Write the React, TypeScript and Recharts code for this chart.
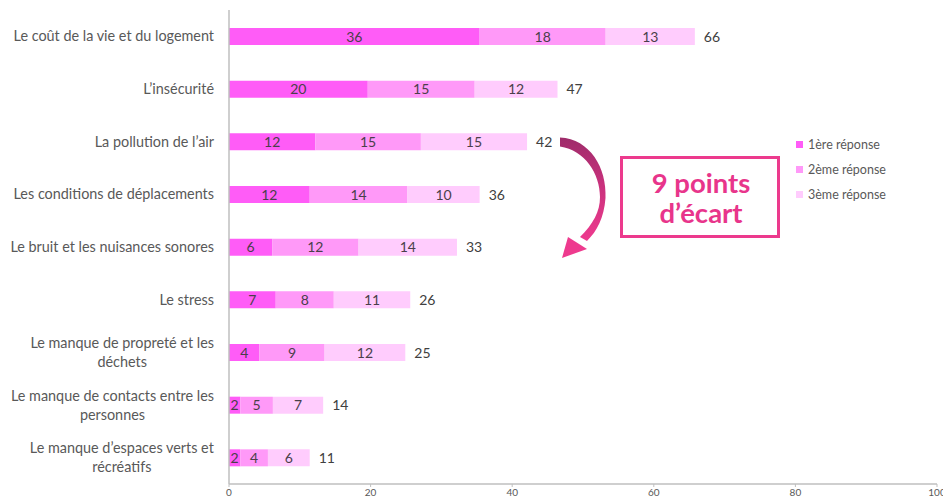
import React from 'react';
import { BarChart, Bar, XAxis, YAxis, LabelList } from 'recharts';

const categories = [
  'Le coût de la vie et du logement',
  'L\u2019insécurité',
  'La pollution de l\u2019air',
  'Les conditions de déplacements',
  'Le bruit et les nuisances sonores',
  'Le stress',
  'Le manque de propreté et les|déchets',
  'Le manque de contacts entre les|personnes',
  'Le manque d\u2019espaces verts et|récréatifs',
];

// underlying values
const first = [35.4, 19.6, 12.2, 11.4, 6.1, 6.6, 4.3, 1.6, 1.6];
const second = [17.8, 15.1, 14.9, 13.8, 12.2, 8.2, 9.2, 4.6, 3.9];
const third = [12.6, 11.7, 15.0, 10.2, 13.9, 10.8, 11.4, 7.1, 5.9];

// displayed labels
const firstLabels = [36, 20, 12, 12, 6, 7, 4, 2, 2];
const secondLabels = [18, 15, 15, 14, 12, 8, 9, 5, 4];
const thirdLabels = [13, 12, 15, 10, 14, 11, 12, 7, 6];
const totals = [66, 47, 42, 36, 33, 26, 25, 14, 11];

const xTicks = [0, 20, 40, 60, 80, 100];
const seriesNames = ['1ère réponse', '2ème réponse', '3ème réponse'];
const colors = ['#FF5CF7', '#FF99F8', '#FFCCFD'];

const data = categories.map((c, i) => ({
  name: c,
  r1: first[i],
  r2: second[i],
  r3: third[i],
  l1: firstLabels[i],
  l2: secondLabels[i],
  l3: thirdLabels[i],
  total: totals[i],
}));

const FONT = 'Lato, "Open Sans", sans-serif';
const CAT_FS = 14.4;

let canvasCtx: CanvasRenderingContext2D | null = null;
function measure(text: string, font: string): number {
  if (!canvasCtx) {
    const c = document.createElement('canvas');
    canvasCtx = c.getContext('2d');
  }
  if (!canvasCtx) return text.length * 7;
  canvasCtx.font = font;
  return canvasCtx.measureText(text).width;
}

const CatTick = (props: any) => {
  const { x, y, payload } = props;
  const lines: string[] = String(payload.value).split('|');
  const right = x - 7;
  const fs = CAT_FS;
  if (lines.length === 1) {
    return (
      <text x={right} y={y} dy={5} textAnchor="end" fill="#595959" fontSize={fs} fontFamily={FONT}>
        {lines[0]}
      </text>
    );
  }
  const w = Math.max(...lines.map((l) => measure(l, `${fs}px Lato`)));
  const cx = right - w / 2;
  return (
    <text x={cx} y={y} textAnchor="middle" fill="#595959" fontSize={fs} fontFamily={FONT}>
      <tspan x={cx} dy={-4.5}>{lines[0]}</tspan>
      <tspan x={cx} dy={19}>{lines[1]}</tspan>
    </text>
  );
};

const makeInner = (labels: number[]) => (props: any) => {
  const { x, y, width, height, index } = props;
  return (
    <text
      x={x + width / 2}
      y={y + height / 2}
      dy={5}
      textAnchor="middle"
      fill="#4a3f4a"
      fontSize={14}
      fontFamily={FONT}
    >
      {labels[index]}
    </text>
  );
};

const TotalLabel = (props: any) => {
  const { x, y, width, height, index } = props;
  return (
    <text x={x + width + 9} y={y + height / 2} dy={5} textAnchor="start" fill="#404040" fontSize={14} fontFamily={FONT}>
      {totals[index]}
    </text>
  );
};

const LegendBox = () => (
  <div
    style={{
      position: 'absolute',
      left: 796,
      top: 132,
      fontFamily: FONT,
      fontSize: 12.5,
      color: '#595959',
    }}
  >
    {seriesNames.map((n, i) => (
      <div key={n} style={{ display: 'flex', alignItems: 'center', height: 25 }}>
        <span style={{ width: 7, height: 7, background: colors[i], display: 'inline-block', marginRight: 5 }} />
        <span>{n}</span>
      </div>
    ))}
  </div>
);

const Annotation = () => (
  <svg width={943} height={503} style={{ position: 'absolute', left: 0, top: 0, pointerEvents: 'none' }}>
    <defs>
      <linearGradient id="arrowGrad" x1="0" y1="0" x2="0" y2="1">
        <stop offset="0%" stopColor="#9E2C6A" />
        <stop offset="45%" stopColor="#C8317C" />
        <stop offset="100%" stopColor="#EE3A8E" />
      </linearGradient>
    </defs>
    <path
      d="M 560 137.5 C 590 139, 607 168, 605.5 198 C 604 218, 597 231, 587 241 L 580 237 C 593 224, 600 212, 600 197 C 600 174, 585 150, 560 146.5 Z"
      fill="url(#arrowGrad)"
    />
    <path d="M 568 237 L 587 249 L 562 258 Z" fill="#EE3A8E" />
    <rect x={621.5} y={157.5} width={157} height={79} fill="#fff" stroke="#EC3A8D" strokeWidth={3} />
    <text x={701} y={193} textAnchor="middle" fill="#E8358B" fontSize={27.5} fontWeight={700} fontFamily={FONT}>
      9 points
    </text>
    <text x={701} y={223} textAnchor="middle" fill="#E8358B" fontSize={27.5} fontWeight={700} fontFamily={FONT}>
      d{'\u2019'}écart
    </text>
  </svg>
);

export default function App() {
  return (
    <div style={{ position: 'absolute', left: 0, top: 0, width: 943, height: 503, background: '#fff', overflow: 'hidden' }}>
      <BarChart
        width={943}
        height={503}
        data={data}
        layout="vertical"
        margin={{ top: 10, right: 6, left: 0, bottom: 0 }}
        barSize={17}
      >
        <XAxis
          type="number"
          domain={[0, 100]}
          ticks={xTicks}
          height={19}
          interval={0}
          axisLine={{ stroke: '#BFBFBF', strokeWidth: 1.5 }}
          tickLine={{ stroke: '#BFBFBF' }}
          tickSize={3}
          tick={{ fill: '#595959', fontSize: 10, fontFamily: FONT }}
        />
        <YAxis
          type="category"
          dataKey="name"
          width={229}
          axisLine={{ stroke: '#BFBFBF', strokeWidth: 1.5 }}
          tickLine={false}
          tick={<CatTick />}
          interval={0}
        />
        <Bar dataKey="r1" stackId="a" fill={colors[0]} name={seriesNames[0]} isAnimationActive={false}>
          <LabelList dataKey="l1" content={makeInner(firstLabels)} />
        </Bar>
        <Bar dataKey="r2" stackId="a" fill={colors[1]} name={seriesNames[1]} isAnimationActive={false}>
          <LabelList dataKey="l2" content={makeInner(secondLabels)} />
        </Bar>
        <Bar dataKey="r3" stackId="a" fill={colors[2]} name={seriesNames[2]} isAnimationActive={false}>
          <LabelList dataKey="l3" content={makeInner(thirdLabels)} />
          <LabelList dataKey="total" content={<TotalLabel />} />
        </Bar>
      </BarChart>
      <LegendBox />
      <Annotation />
    </div>
  );
}
